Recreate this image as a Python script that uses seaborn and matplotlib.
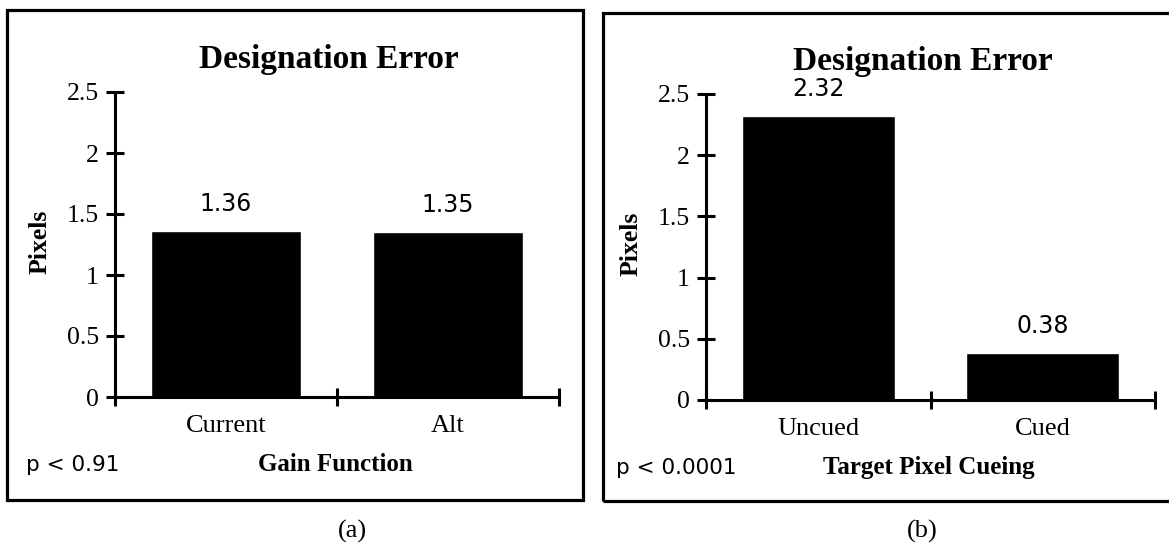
import matplotlib
matplotlib.use("Agg")
import matplotlib.pyplot as plt
from matplotlib.patches import Rectangle
import seaborn as sns

gain_cats = ["Current", "Alt"]
gain_vals = [1.36, 1.35]
cue_cats = ["Uncued", "Cued"]
cue_vals = [2.32, 0.38]
title = "Designation Error"
yticks = [0, 0.5, 1, 1.5, 2, 2.5]
ytick_labels = ["0", "0.5", "1", "1.5", "2", "2.5"]

sns.set_style("white", {"xtick.bottom": True, "ytick.left": True,
                        "text.color": "black", "axes.labelcolor": "black",
                        "xtick.color": "black", "ytick.color": "black"})
plt.rcParams["font.family"] = ["Liberation Serif", "DejaVu Serif"]

fig = plt.figure(figsize=(11.69, 5.48), dpi=100)

# axes boxes in pixels: (left, top of 2.5, right end, zero line)
layouts = [(115, 92, 559, 397), (706, 94, 1155, 400)]
W, H = 1169, 548

def draw_panel(px, cats, vals, xlabel, ptext):
    l, t, r, b = px
    ax = fig.add_axes([l / W, 1 - b / H, (r - l) / W, (b - t) / H])
    sns.barplot(x=cats, y=vals, color="black", saturation=1, width=0.68, ax=ax)
    ax.set_xlim(-0.5, 1.5)
    ax.set_ylim(0, 2.5)
    for s in ["top", "right"]:
        ax.spines[s].set_visible(False)
    for s in ["left", "bottom"]:
        ax.spines[s].set_linewidth(2.2)
        ax.spines[s].set_color("black")
    ax.set_yticks(yticks)
    ax.set_yticklabels(ytick_labels)
    ax.tick_params(axis="y", left=True, direction="inout", length=13, width=2.2,
                   pad=5, labelsize=18.5, color="black", labelcolor="black")
    ax.set_xticks([-0.5, 0.5, 1.5], minor=True)
    ax.tick_params(axis="x", which="minor", bottom=True, direction="inout",
                   length=13, width=2.2, color="black")
    ax.tick_params(axis="x", which="major", length=0, pad=13, labelsize=19,
                   labelcolor="black")
    ax.set_xticks([0, 1])
    ax.set_xticklabels(cats)
    ax.bar_label(ax.containers[0], labels=[f"{v:.2f}" for v in vals], padding=11,
                 fontsize=17, family="DejaVu Sans", color="black")
    ax.set_ylabel("Pixels", fontsize=18.5, fontweight="bold", color="black")
    ax.yaxis.set_label_coords(-0.168, 0.51)
    ax.yaxis.label.set_va("center")
    ax.set_xlabel(xlabel, fontsize=18, fontweight="bold", color="black")
    ax.xaxis.set_label_coords(0.496, -0.222)
    ax.xaxis.label.set_va("center")
    ax.text(-0.2, -0.222, ptext, transform=ax.transAxes, fontsize=15.5,
            family="DejaVu Sans", va="center", ha="left", color="black")
    ax.text(0.482, 1.08, title, transform=ax.transAxes, fontsize=24,
            fontweight="bold", ha="center", va="baseline", color="black")
    ax.patch.set_alpha(0)
    return ax

draw_panel(layouts[0], gain_cats, gain_vals, "Gain Function", "p < 0.91")
draw_panel(layouts[1], cue_cats, cue_vals, "Target Pixel Cueing", "p < 0.0001")

# panel frames
fig.patches.append(Rectangle((7 / W, 1 - 500 / H), 576 / W, 490 / H, fill=False,
                             lw=2.3, ec="black", transform=fig.transFigure))
fig.patches.append(Rectangle((603 / W, 1 - 501 / H), 600 / W, 488 / H, fill=False,
                             lw=2.3, ec="black", transform=fig.transFigure))

fig.text(352 / W, 1 - 531 / H, "(a)", fontsize=19, ha="center", va="center",
         color="black")
fig.text(922 / W, 1 - 531 / H, "(b)", fontsize=19, ha="center", va="center",
         color="black")

fig.savefig("out.png", dpi=100)
